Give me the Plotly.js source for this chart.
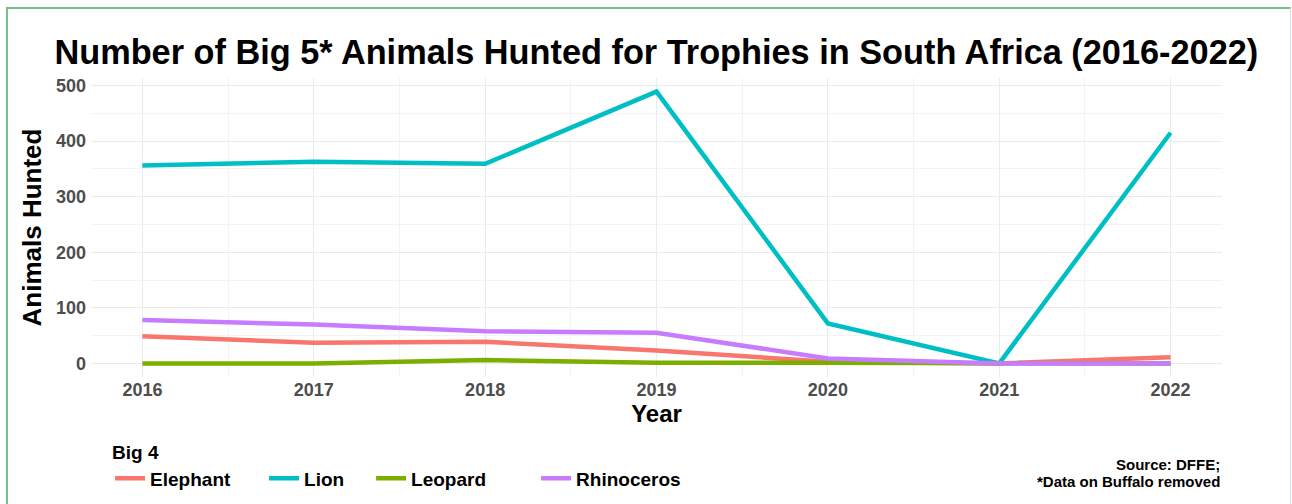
<!DOCTYPE html>
<html>
<head>
<meta charset="utf-8">
<script src="https://cdn.plot.ly/plotly-3.0.1.min.js"></script>
<style>
  html, body { margin: 0; padding: 0; background: #fff; }
  #wrap { position: relative; width: 1292px; height: 504px; overflow: hidden; }
  #chart { position: absolute; left: 0; top: 0; width: 1292px; height: 504px; }
  #frame { position: absolute; left: 6px; top: 7px; width: 1285px; height: 600px;
           border-top: 2px solid #74C18A; border-left: 2px solid #74C18A;
           border-right: 1px solid #d5e0d8; pointer-events: none; box-sizing: border-box; }
</style>
</head>
<body>
<div id="wrap">
  <div id="chart"></div>
  <div id="frame"></div>
</div>
<script>
const years = [2016, 2017, 2018, 2019, 2020, 2021, 2022];
const elephant = [49, 37, 39, 23, 3, 0, 11];
const lion = [356, 363, 359, 489, 72, 0, 415];
const leopard = [0, 0, 6, 1, 1, 0, 0];
const rhinoceros = [78, 70, 58, 55, 9, 0, 0];
const seriesNames = ["Elephant", "Lion", "Leopard", "Rhinoceros"];
const seriesColors = ["#F8766D", "#00BFC4", "#7CAE00", "#C77CFF"];
const seriesData = [elephant, lion, leopard, rhinoceros];
const legendWidths = [109, 62, 120, 112];
const yTicks = [0, 100, 200, 300, 400, 500];
const captionLines = ["Source: DFFE;", "*Data on Buffalo removed"];

const FONT = "Liberation Sans, Arial, Helvetica, sans-serif";

const traces = seriesNames.map((name, i) => ({
  type: "scatter",
  mode: "lines",
  name: name,
  x: years,
  y: seriesData[i],
  line: { color: seriesColors[i], width: 4.5 },
  legendwidth: legendWidths[i],
  hoverinfo: "x+y+name"
}));

const layout = {
  width: 1292,
  height: 504,
  margin: { l: 91, r: 70, t: 78, b: 127 },
  paper_bgcolor: "#ffffff",
  plot_bgcolor: "#ffffff",
  font: { family: FONT, color: "#000" },
  title: {
    text: "Number of Big 5* Animals Hunted for Trophies in South Africa (2016-2022)",
    font: { family: FONT, size: 34.3, weight: 700, color: "#000" },
    x: 0.508, xanchor: "center",
    y: 0.897, yanchor: "middle", yref: "container"
  },
  xaxis: {
    range: [2015.7, 2022.3],
    tickvals: years,
    ticktext: years.map(String),
    tickfont: { family: FONT, size: 18, weight: 700, color: "#4D4D4D" },
    showgrid: true, gridcolor: "#EBEBEB", gridwidth: 1,
    minor: { dtick: 0.5, tick0: 2015.5, showgrid: true, gridcolor: "#F3F3F3", gridwidth: 1 },
    zeroline: false, showline: false, ticks: "",
    title: { text: "Year", font: { family: FONT, size: 24, weight: 700, color: "#000" }, standoff: 6 },
    automargin: false
  },
  yaxis: {
    range: [-24.45, 513.45],
    tickvals: yTicks,
    tickfont: { family: FONT, size: 18, weight: 700, color: "#4D4D4D" },
    ticklabelstandoff: 4,
    showgrid: true, gridcolor: "#EBEBEB", gridwidth: 1,
    minor: { dtick: 50, tick0: 0, showgrid: true, gridcolor: "#F3F3F3", gridwidth: 1 },
    zeroline: false, showline: false, ticks: "",
    title: { text: "Animals Hunted", font: { family: FONT, size: 26, weight: 700, color: "#000" }, standoff: 6 },
    automargin: false
  },
  showlegend: true,
  legend: {
    orientation: "h",
    xref: "container", yref: "container",
    x: 0.0852, xanchor: "left",
    y: 0.1377, yanchor: "top",
    title: { text: "Big 4", side: "top", font: { family: FONT, size: 19, weight: 700, color: "#000" } },
    font: { family: FONT, size: 19, weight: 700, color: "#000" },
    tracegroupgap: 0,
    bgcolor: "rgba(0,0,0,0)"
  },
  annotations: captionLines.map((t, i) => ({
    xref: "paper", yref: "paper",
    x: 1, xanchor: "right",
    y: -0.291 - i * 0.057, yanchor: "middle",
    align: "right",
    showarrow: false,
    text: t,
    font: { family: FONT, size: 15, weight: 700, color: "#000" }
  }))
};

Plotly.newPlot("chart", traces, layout, { displayModeBar: false });
</script>
</body>
</html>
